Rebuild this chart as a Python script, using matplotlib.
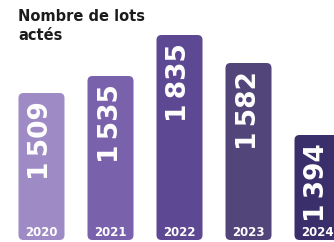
import matplotlib
matplotlib.use('Agg')
import matplotlib.pyplot as plt
from matplotlib.patches import FancyBboxPatch

# data
years = ['2020', '2021', '2022', '2023', '2024']
lots = [1509, 1535, 1835, 1582, 1394]
# bars are not drawn to scale in the original, heights as displayed (px)
bar_heights = [147, 164, 205, 177, 105]
colors = ['#9e8bc6', '#7a61ab', '#5d4893', '#51457a', '#3a2f6a']

W, H = 334, 242
fig = plt.figure(figsize=(W / 100, H / 100), dpi=100)
ax = fig.add_axes([0, 0, 1, 1])

step = 69.0  # px between bars
ax.set_xlim(-41.5 / step, (W - 41.5) / step)
ax.set_ylim(0, H)
ax.axis('off')

width = 46 / step
base = 2
for i, (yr, v, h, c) in enumerate(zip(years, lots, bar_heights, colors)):
    box = FancyBboxPatch((i - width / 2, base), width, h,
                         boxstyle='round,pad=0,rounding_size=%f' % (5 / step),
                         mutation_aspect=step, facecolor=c, edgecolor='none')
    ax.add_patch(box)
    label = '{:,}'.format(v).replace(',', '\u2009')
    ax.text(i, base + h - 8, label, rotation=90, ha='center', va='top',
            color='white', fontsize=19, fontweight='bold')
    ax.text(i, base + 8, yr, ha='center', va='center', color='white',
            fontsize=8.5, fontweight='bold')

fig.text(18 / W, 1 - 9 / H, 'Nombre de lots\nactés', ha='left', va='top',
         fontsize=10.5, fontweight='bold', color='#1c1c1c', linespacing=1.35)

fig.savefig('out.png', dpi=100)
